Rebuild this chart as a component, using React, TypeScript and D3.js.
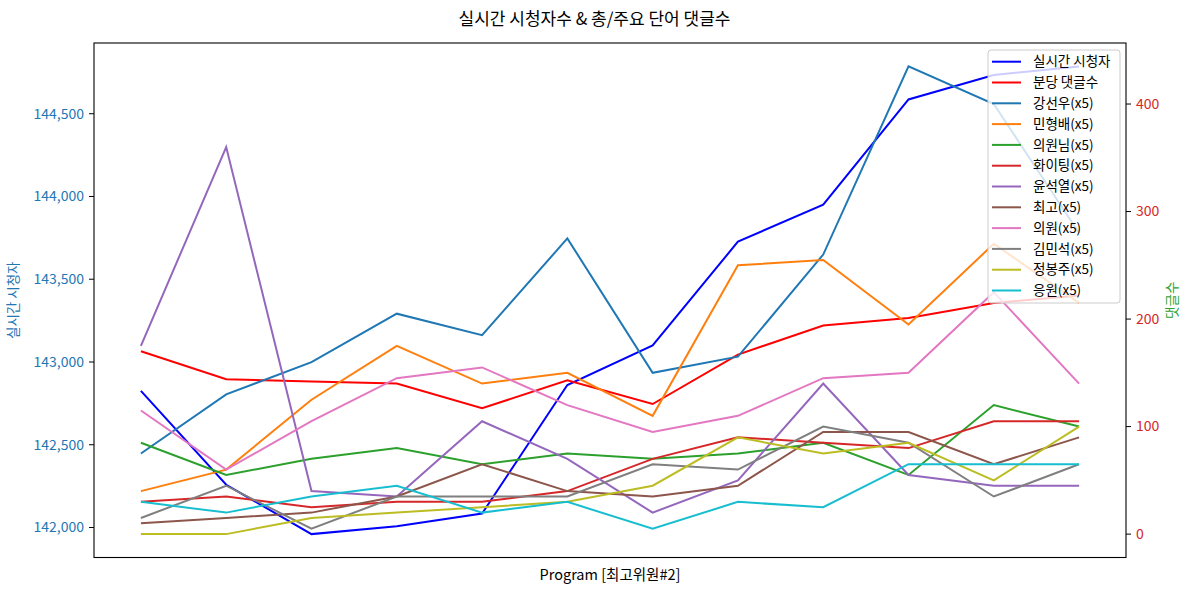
import React from "react";
import * as d3 from "d3";

const W = 1189;
const H = 592;
const M = { left: 94, right: 1126, top: 43, bottom: 557.5 };

const xIndex = [0, 1, 2, 3, 4, 5, 6, 7, 8, 9, 10, 11];
const viewers = [142825, 142258, 141960, 142008, 142084, 142861, 143100, 143727, 143951, 144586, 144734, 144786];
const perMinComments = [170, 144, 142, 140, 117, 143, 121, 167, 194, 201, 215, 222];

const wordNames = ["강선우(x5)", "민형배(x5)", "의원님(x5)", "화이팅(x5)", "윤석열(x5)", "최고(x5)", "의원(x5)", "김민석(x5)", "정봉주(x5)", "응원(x5)"];
const wKangseonwoo = [75, 130, 160, 205, 185, 275, 150, 165, 260, 435, 400, 280];
const wMinhyungbae = [40, 60, 125, 175, 140, 150, 110, 250, 255, 195, 270, 215];
const wUiwonnim = [85, 55, 70, 80, 65, 75, 70, 75, 85, 55, 120, 100];
const wHwaiting = [30, 35, 25, 30, 30, 40, 70, 90, 85, 80, 105, 105];
const wYoon = [175, 360, 40, 35, 105, 70, 20, 50, 140, 55, 45, 45];
const wChoigo = [10, 15, 20, 35, 65, 40, 35, 45, 95, 95, 65, 90];
const wUiwon = [115, 60, 105, 145, 155, 120, 95, 110, 145, 150, 225, 140];
const wKimminseok = [15, 45, 5, 35, 35, 35, 65, 60, 100, 85, 35, 65];
const wJeongbongju = [0, 0, 15, 20, 25, 30, 45, 90, 75, 85, 50, 100];
const wEungwon = [30, 20, 35, 45, 20, 30, 5, 30, 25, 65, 65, 65];

const wordSeries = [wKangseonwoo, wMinhyungbae, wUiwonnim, wHwaiting, wYoon, wChoigo, wUiwon, wKimminseok, wJeongbongju, wEungwon];
const wordColors = ["#1f77b4", "#ff7f0e", "#2ca02c", "#d62728", "#9467bd", "#8c564b", "#e377c2", "#7f7f7f", "#bcbd22", "#17becf"];

const leftTicks = [142000, 142500, 143000, 143500, 144000, 144500];
const rightTicks = [0, 100, 200, 300, 400];

const FONT = "'Noto Sans CJK KR', 'DejaVu Sans', sans-serif";

function pad(lo: number, hi: number) {
  const r = hi - lo;
  return [lo - 0.05 * r, hi + 0.05 * r];
}

export default function App() {
  const x = d3.scaleLinear().domain(pad(0, 11)).range([M.left, M.right]);
  const yL = d3.scaleLinear().domain(pad(d3.min(viewers)!, d3.max(viewers)!)).range([M.bottom, M.top]);
  const allRight = [...perMinComments, ...wordSeries.flat()];
  const yR = d3.scaleLinear().domain(pad(d3.min(allRight)!, d3.max(allRight)!)).range([M.bottom, M.top]);

  const lineL = d3.line<number>().x((_, i) => x(xIndex[i])).y((d) => yL(d));
  const lineR = d3.line<number>().x((_, i) => x(xIndex[i])).y((d) => yR(d));

  const legendItems = [
    { name: "실시간 시청자", color: "#0000ff" },
    { name: "분당 댓글수", color: "#ff0000" },
    ...wordNames.map((n, i) => ({ name: n, color: wordColors[i] })),
  ];
  const fmt = d3.format(",");

  const lgX = 988, lgY = 50, lgW = 132, lgH = 253;

  return (
    <svg width={W} height={H} style={{ position: "absolute", left: 0, top: 0, background: "#fff" }} fontFamily={FONT}>
      <rect x={0} y={0} width={W} height={H} fill="#fff" />
      <text x={W / 2} y={25} textAnchor="middle" fontSize={17} fill="#000">
        실시간 시청자수 &amp; 총/주요 단어 댓글수
      </text>

      <path d={lineL(viewers)!} fill="none" stroke="#0000ff" strokeWidth={2} />
      <path d={lineR(perMinComments)!} fill="none" stroke="#ff0000" strokeWidth={2} />
      {wordSeries.map((s, i) => (
        <path key={i} d={lineR(s)!} fill="none" stroke={wordColors[i]} strokeWidth={2} />
      ))}

      <rect x={M.left} y={M.top} width={M.right - M.left} height={M.bottom - M.top} fill="none" stroke="#000" strokeWidth={1.1} />

      {leftTicks.map((t) => (
        <g key={t}>
          <line x1={M.left - 5} x2={M.left} y1={yL(t)} y2={yL(t)} stroke="#000" strokeWidth={1} />
          <text x={M.left - 10} y={yL(t)} dy="0.35em" textAnchor="end" fontSize={14} fill="#1f77b4">{fmt(t)}</text>
        </g>
      ))}
      {rightTicks.map((t) => (
        <g key={t}>
          <line x1={M.right} x2={M.right + 5} y1={yR(t)} y2={yR(t)} stroke="#000" strokeWidth={1} />
          <text x={M.right + 10} y={yR(t)} dy="0.35em" textAnchor="start" fontSize={14} fill="#d62728">{t}</text>
        </g>
      ))}

      <text transform={`translate(18,${(M.top + M.bottom) / 2}) rotate(-90)`} textAnchor="middle" fontSize={13.5} fill="#1f77b4">실시간 시청자</text>
      <text transform={`translate(1177,${(M.top + M.bottom) / 2}) rotate(-90)`} textAnchor="middle" fontSize={13.5} fill="#2ca02c">댓글수</text>
      <text x={(M.left + M.right) / 2} y={580} textAnchor="middle" fontSize={14.5} fill="#000">Program [최고위원#2]</text>

      <rect x={lgX} y={lgY} width={lgW} height={lgH} rx={3} fill="#fff" fillOpacity={0.8} stroke="#cccccc" strokeWidth={1} />
      {legendItems.map((it, i) => {
        const cy = 61.7 + 20.8 * i;
        return (
          <g key={it.name}>
            <line x1={992} x2={1021} y1={cy} y2={cy} stroke={it.color} strokeWidth={2} />
            <text x={1033} y={cy} dy="0.35em" fontSize={13.5} fill="#000">{it.name}</text>
          </g>
        );
      })}
    </svg>
  );
}
